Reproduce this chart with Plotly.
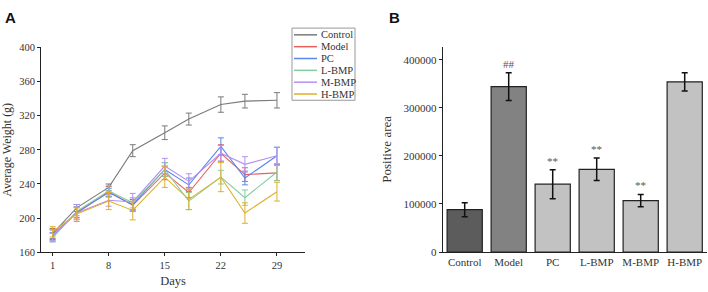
import plotly.graph_objects as go

# ---- Panel A data ----
days = [1, 4, 8, 11, 15, 18, 22, 25, 29]
control = [182, 212, 236, 279, 300, 316, 333, 337, 338]
control_err = [6, 4, 4, 7, 8, 7, 9, 8, 9]
model = [181, 206, 231, 215, 253, 230, 276, 251, 253]
model_err = [6, 7, 6, 7, 8, 6, 10, 8, 9]
pc = [178, 207, 230, 216, 257, 239, 284, 247, 273]
pc_err = [5, 6, 5, 6, 8, 8, 10, 8, 10]
l_bmp = [177, 208, 232, 218, 257, 220, 248, 224, 254]
l_bmp_err = [5, 5, 6, 6, 8, 10, 8, 9, 10]
m_bmp = [180, 206, 221, 219, 261, 243, 276, 263, 273]
m_bmp_err = [6, 10, 7, 10, 9, 9, 9, 9, 10]
h_bmp = [184, 205, 220, 209, 248, 222, 248, 206, 231]
h_bmp_err = [6, 7, 10, 11, 12, 12, 17, 12, 11]
x_ticks_a = [1, 8, 15, 22, 29]
y_ticks_a = [160, 200, 240, 280, 320, 360, 400]
series_names = ["Control", "Model", "PC", "L-BMP", "M-BMP", "H-BMP"]
series_colors = ["#7a7a7a", "#e8625c", "#5a86f0", "#86cc9e", "#b690f2", "#dcb12c"]

# ---- Panel B data ----
groups = ["Control", "Model", "PC", "L-BMP", "M-BMP", "H-BMP"]
area = [88000, 344000, 141000, 172000, 107000, 354000]
area_err = [14500, 29000, 30000, 23500, 12700, 19000]
sig_labels = ["", "##", "**", "**", "**", ""]
y_ticks_b = [0, 100000, 200000, 300000, 400000]

serif = "Liberation Serif, Times New Roman, serif"
W, H = 708, 292

fig = go.Figure()

series_vals = [control, model, pc, l_bmp, m_bmp, h_bmp]
series_errs = [control_err, model_err, pc_err, l_bmp_err, m_bmp_err, h_bmp_err]
for name, vals, errs, col in zip(series_names, series_vals, series_errs, series_colors):
    fig.add_trace(go.Scatter(
        x=days, y=vals, name=name, mode="lines", showlegend=False,
        line=dict(color=col, width=1.1),
        error_y=dict(type="data", array=errs, visible=True, color=col,
                     thickness=1, width=3),
        xaxis="x", yaxis="y",
    ))

bar_colors = ["#5c5c5c", "#828282", "#c2c2c2", "#c2c2c2", "#c2c2c2", "#c2c2c2"]
fig.add_trace(go.Bar(
    x=groups, y=area, showlegend=False,
    marker=dict(color=bar_colors, line=dict(color="#222222", width=1.2)),
    width=0.8,
    error_y=dict(type="data", array=area_err, visible=True, color="#111111",
                 thickness=1.5, width=3),
    xaxis="x2", yaxis="y2",
))

for g, v, e, s in zip(groups, area, area_err, sig_labels):
    if s:
        fig.add_annotation(x=g, y=v + e, xref="x2", yref="y2", text=s,
                           showarrow=False, yanchor="bottom", yshift=1,
                           font=dict(family=serif, size=11, color="#555555"))

# ---- manual compact legend (box, swatches, labels) ----
lg_left, lg_top, lg_right, lg_bottom = 292, 24, 355, 99
fig.add_shape(type="rect", xref="paper", yref="paper",
              x0=lg_left / W, x1=lg_right / W, y0=1 - lg_bottom / H, y1=1 - lg_top / H,
              line=dict(color="#999999", width=1), fillcolor="white", layer="above")
row_h = 12.3
for i, (name, col) in enumerate(zip(series_names, series_colors)):
    yc = lg_top + 7 + i * row_h
    fig.add_shape(type="line", xref="paper", yref="paper",
                  x0=(lg_left + 2) / W, x1=(lg_left + 25) / W,
                  y0=1 - yc / H, y1=1 - yc / H,
                  line=dict(color=col, width=1.5), layer="above")
    fig.add_annotation(x=(lg_left + 27) / W, y=1 - yc / H, xref="paper", yref="paper",
                       text=name, showarrow=False, xanchor="left", yanchor="middle",
                       font=dict(family=serif, size=10.5, color="#333333"))

fig.add_annotation(x=3 / W, y=1 - 2 / H, xref="paper", yref="paper",
                   text="<b>A</b>", showarrow=False, xanchor="left", yanchor="top",
                   font=dict(family="Liberation Sans, Arial", size=15, color="#111"))
fig.add_annotation(x=387 / W, y=1 - 2 / H, xref="paper", yref="paper",
                   text="<b>B</b>", showarrow=False, xanchor="left", yanchor="top",
                   font=dict(family="Liberation Sans, Arial", size=15, color="#111"))

axis_common = dict(showgrid=False, zeroline=False, showline=True,
                   linecolor="#222222", linewidth=1, ticks="outside",
                   ticklen=3, tickcolor="#222222",
                   tickfont=dict(family=serif, size=10.5, color="#333333"))

fig.update_layout(
    width=W, height=H,
    margin=dict(l=0, r=0, t=0, b=0),
    paper_bgcolor="white", plot_bgcolor="white",
    showlegend=False,
    xaxis=dict(domain=[41 / W, 305 / W], range=[-0.45, 32.5],
               tickvals=x_ticks_a, anchor="y",
               title=dict(text="Days", font=dict(family=serif, size=12.5, color="#333"),
                          standoff=6),
               **axis_common),
    yaxis=dict(domain=[1 - 257 / H, 1 - 44 / H], range=[160, 400],
               tickvals=y_ticks_a, anchor="x",
               title=dict(text="Average Weight (g)",
                          font=dict(family=serif, size=12, color="#333"),
                          standoff=6),
               **axis_common),
    xaxis2=dict(domain=[442.7 / W, 706.7 / W], range=[-0.5, 5.5],
                anchor="y2", showgrid=False, zeroline=False, showline=True,
                linecolor="#222222", linewidth=1, ticks="",
                tickfont=dict(family=serif, size=11, color="#333333")),
    yaxis2=dict(domain=[1 - 256.7 / H, 1 - 43.3 / H], range=[0, 427000],
                tickvals=y_ticks_b, ticktext=[str(v) for v in y_ticks_b],
                anchor="x2",
                title=dict(text="Positive area",
                           font=dict(family=serif, size=13, color="#333"),
                           standoff=8),
                **{**axis_common, "tickfont": dict(family=serif, size=11, color="#333333")}),
    bargap=0.2,
)

fig.write_html("out.html", config={"displayModeBar": False},
               post_script="document.body.style.margin='0';document.body.style.overflow='hidden';")
